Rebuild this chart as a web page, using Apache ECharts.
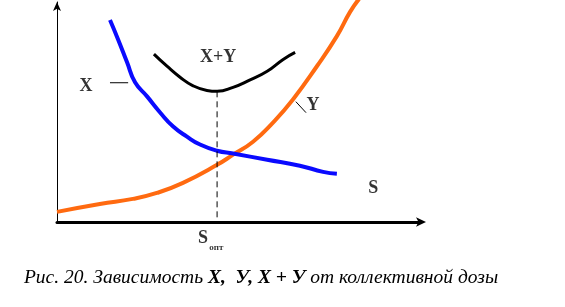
<!DOCTYPE html>
<html><head><meta charset="utf-8">
<script src="https://cdn.jsdelivr.net/npm/echarts@6/dist/echarts.min.js"></script>
<style>html,body{margin:0;padding:0;background:#fff}#c{width:565px;height:307px}</style>
</head><body><div id="c"></div>
<script>
// Curve data [S, value] in abstract units (0-100)
const curveX = [[14.6,91.8],[16.8,83.1],[19.3,72.6],[21.5,63.5],[24.8,57.1],[28.4,49.8],[32.0,43.4],[35.8,38.8],[39.4,35.2],[44.1,32.4],[48.5,31.1],[57.9,28.3],[66.9,25.6],[73.3,22.8],[77.1,21.9]];
const curveY = [[0,4.6],[11.8,8.2],[20.9,10.5],[27.5,13.2],[34.7,17.8],[44.1,26.0],[48.5,30.6],[54.0,36.5],[59.5,45.2],[65.0,55.7],[71.6,70.8],[77.1,84.5],[80.7,95.4],[83.2,101.4]];
const curveXY = [[26.7,76.3],[30.3,70.8],[33.9,65.8],[37.5,61.9],[41.3,59.8],[44.1,59.4],[48.5,61.2],[53.2,64.6],[57.9,68.5],[62.3,73.9],[65.6,77.1]];
const sOpt = 44.1;
const optLine = [[sOpt,59.4],[sOpt,1.8]];
const leaderX = [[14.6,63.3],[19.6,63.3]];
const leaderY = [[65.8,54.7],[68.6,49.7]];
const labels = [
  {name:'X+Y', value:[44.4,74.7]},
  {name:'X', value:[8.0,61.6]},
  {name:'Y', value:[70.5,52.9]},
  {name:'S', value:[87.1,15.5]},
  {name:'S', value:[40.2,-7.3]}
];
const subLabel = [{name:'опт', value:[43.9,-11.8]}];
const caption = ['Рис. 20. Зависимость ', 'X,  У, X + У', ' от коллективной дозы'];

const chart = echarts.init(document.getElementById('c'), null, {renderer:'canvas'});
const serif = '"Liberation Serif", "DejaVu Serif", serif';
const lineS = (data, color, width, extra) => Object.assign({
  type:'line', data, showSymbol:false, symbol:'none', smooth:true, silent:true,
  lineStyle:{color, width}, animation:false
}, extra||{});
chart.setOption({
  animation:false,
  grid:{left:57, right:145, top:2, bottom:85},
  xAxis:{type:'value', min:0, max:100,
    axisLine:{show:true, onZero:false, lineStyle:{color:'#000', width:3}, symbol:['none','arrow'], symbolSize:[7,10], symbolOffset:[0,6]},
    axisTick:{show:false}, axisLabel:{show:false}, splitLine:{show:false}},
  yAxis:{type:'value', min:0, max:100,
    axisLine:{show:true, onZero:false, lineStyle:{color:'#000', width:1}, symbol:['none','arrow'], symbolSize:[6,9]},
    axisTick:{show:false}, axisLabel:{show:false}, splitLine:{show:false}},
  series:[
    lineS(curveY, '#ff6a10', 4, {clip:false}),
    lineS(curveX, '#0a0aff', 4),
    lineS(curveXY, '#000', 3),
    lineS(optLine, '#000', 1, {smooth:false, lineStyle:{color:'#000', width:1, type:[6,4]}}),
    lineS(leaderX, '#000', 1, {smooth:false}),
    lineS(leaderY, '#000', 1, {smooth:false}),
    {type:'scatter', data:labels, symbolSize:0, clip:false, silent:true,
      label:{show:true, position:'inside', formatter:'{b}', color:'#000', fontFamily:serif, fontWeight:'bold', fontSize:18}},
    {type:'scatter', data:subLabel, symbolSize:0, clip:false, silent:true,
      label:{show:true, position:'inside', formatter:'{b}', color:'#000', fontFamily:serif, fontWeight:'bold', fontSize:9}}
  ],
  graphic:[{type:'text', x:261, y:278, style:{
    text:'{i|'+caption[0]+'}{b|'+caption[1]+'}{i|'+caption[2]+'}',
    align:'center', verticalAlign:'middle',
    rich:{
      i:{fontFamily:serif, fontStyle:'italic', fontSize:19.5, fill:'#000'},
      b:{fontFamily:serif, fontStyle:'italic', fontWeight:'bold', fontSize:19.5, fill:'#000'}
    }}}]
});
</script></body></html>
